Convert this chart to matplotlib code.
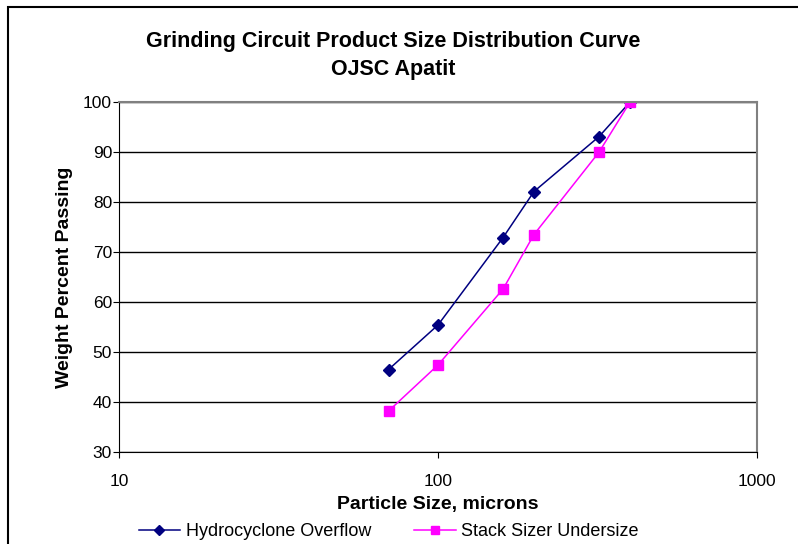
import matplotlib
matplotlib.use('Agg')
import matplotlib.pyplot as plt
from matplotlib.patches import Rectangle
from matplotlib.ticker import FixedLocator, NullLocator, FixedFormatter

plt.rcParams['font.family'] = ['Liberation Sans', 'DejaVu Sans']

# particle size (microns)
sizes = [70, 100, 160, 200, 320, 400]
hydro = [46.5, 55.4, 72.9, 82.1, 93.1, 100.0]
stack = [38.2, 47.4, 62.6, 73.5, 90.0, 100.0]

x_ticks = [10, 100, 1000]
y_ticks = [30, 40, 50, 60, 70, 80, 90, 100]

fig = plt.figure(figsize=(7.98, 5.44), dpi=100)
ax = fig.add_axes([0.1491, 0.1691, 0.7995, 0.6434])

# outer chart border (runs off the right / bottom edge)
fig.patches.append(Rectangle((8 / 798, -0.1), 1.2, 1 - 7 / 544 + 0.1,
                             transform=fig.transFigure, fill=False,
                             edgecolor='black', linewidth=1.5))

ax.plot(sizes, hydro, color='#000080', marker='D', markersize=6,
        linewidth=1.1, label='Hydrocyclone Overflow')
ax.plot(sizes, stack, color='#FF00FF', marker='s', markersize=7,
        linewidth=1.1, label='Stack Sizer Undersize')

ax.set_xscale('log')
ax.set_xlim(10, 1000)
ax.set_ylim(30, 100)
ax.xaxis.set_major_locator(FixedLocator(x_ticks))
ax.xaxis.set_major_formatter(FixedFormatter([str(t) for t in x_ticks]))
ax.xaxis.set_minor_locator(NullLocator())
ax.set_yticks(y_ticks)

ax.grid(axis='y', color='black', linewidth=1)
ax.set_axisbelow(True)
for s in ['top', 'right']:
    ax.spines[s].set_color('#808080')
    ax.spines[s].set_linewidth(1.5)
for s in ['left', 'bottom']:
    ax.spines[s].set_color('black')

ax.tick_params(axis='x', direction='out', length=4, pad=12, labelsize=12.5)
ax.tick_params(axis='y', direction='out', length=4, pad=1, labelsize=12.5)

ax.set_xlabel('Particle Size, microns', fontsize=14, fontweight='bold', va='center')
ax.set_ylabel('Weight Percent Passing', fontsize=14, fontweight='bold', va='center')
ax.xaxis.set_label_coords(0.5, -0.149)
ax.yaxis.set_label_coords(-0.086, 0.5)

fig.text(0.493, 1 - 42 / 544, 'Grinding Circuit Product Size Distribution Curve',
         ha='center', va='center', fontsize=15.5, fontweight='bold')
fig.text(0.493, 1 - 70 / 544, 'OJSC Apatit',
         ha='center', va='center', fontsize=15.5, fontweight='bold')

fig.legend(loc='center', bbox_to_anchor=(0.487, 12 / 544), ncol=2, frameon=False,
           fontsize=13, handlelength=2.3, columnspacing=2.4, handletextpad=0.3,
           markerscale=0.8, borderpad=0.1)

fig.savefig('out.png', dpi=100)
